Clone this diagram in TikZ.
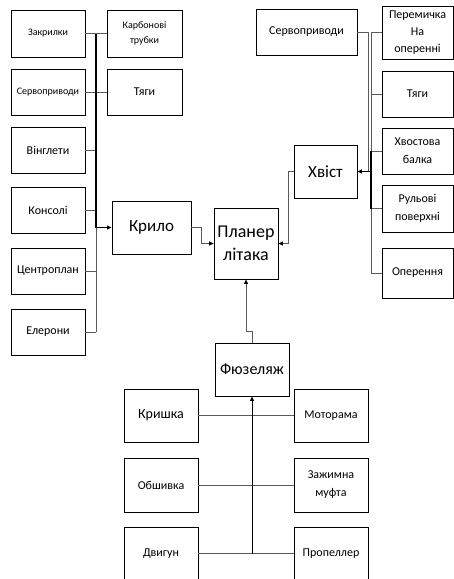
\documentclass[tikz,border=0pt]{standalone}
\usepackage{fontspec}
\setmainfont{Carlito}
\usetikzlibrary{arrows.meta}
\newcommand\fsz[2]{\fontsize{#1}{#2}\selectfont}
\tikzset{
  box/.style={draw=black, line width=0.8pt, fill=white, inner sep=0pt, align=center},
  conn/.style={draw=black!65, line width=0.8pt},
  busln/.style={draw=black, line width=1.3pt},
  arr/.style={-{Triangle[length=4.5pt,width=4pt,color=black]}},
}
\begin{document}
\begin{tikzpicture}[x=1pt,y=-1pt]
\useasboundingbox (0,0) rectangle (454,579);
% left column
\node[box, minimum width=74pt, minimum height=47pt, font=\fsz{10}{14}] (zak) at (48,33.5) {Закрилки};
\node[box, minimum width=74pt, minimum height=46pt, font=\fsz{10}{14}] (servL) at (48,92) {Сервоприводи};
\node[box, minimum width=74pt, minimum height=46pt, font=\fsz{12}{16}] (ving) at (48,150) {Вінглети};
\node[box, minimum width=74pt, minimum height=46pt, font=\fsz{12}{16}] (kons) at (48,210.5) {Консолі};
\node[box, minimum width=74pt, minimum height=46pt, font=\fsz{12}{16}] (centr) at (48,271) {Центроплан};
\node[box, minimum width=74pt, minimum height=46pt, font=\fsz{12}{16}] (eler) at (48,332) {Елерони};
\node[box, minimum width=75pt, minimum height=47pt, font=\fsz{10}{15}] (karb) at (144.5,33.5) {Карбонові\\трубки};
\node[box, minimum width=75pt, minimum height=46pt, font=\fsz{12}{16}] (tyagiL) at (144.5,92) {Тяги};
% center
\node[box, minimum width=79pt, minimum height=53pt, font=\fsz{17}{22}] (krylo) at (151.5,227.5) {Крило};
\node[box, minimum width=64pt, minimum height=71pt, font=\fsz{18}{23}] (planer) at (246,243.5) {Планер\\літака};
\node[box, minimum width=63pt, minimum height=53pt, font=\fsz{17}{22}] (hvist) at (325.5,171.5) {Хвіст};
\node[box, minimum width=74pt, minimum height=53pt, font=\fsz{16}{21}] (fus) at (252,369.5) {Фюзеляж};
% right
\node[box, minimum width=101pt, minimum height=46pt, font=\fsz{12}{16}] (servR) at (306.5,32) {Сервоприводи};
\node[box, minimum width=71pt, minimum height=53pt, font=\fsz{12}{17}] (perem) at (417.5,32.5) {Перемичка\\На\\оперенні};
\node[box, minimum width=71pt, minimum height=46pt, font=\fsz{12}{16}] (tyagiR) at (417.5,94) {Тяги};
\node[box, minimum width=71pt, minimum height=46pt, font=\fsz{12}{18}] (hvost) at (417.5,151) {Хвостова\\балка};
\node[box, minimum width=71pt, minimum height=47pt, font=\fsz{12}{18}] (rul) at (417.5,208.5) {Рульові\\поверхні};
\node[box, minimum width=71pt, minimum height=50pt, font=\fsz{12}{16}] (oper) at (417.5,273) {Оперення};
% bottom
\node[box, minimum width=74pt, minimum height=53pt, font=\fsz{14}{18}] (kryshka) at (161,415.5) {Кришка};
\node[box, minimum width=74pt, minimum height=53pt, font=\fsz{12}{16}] (motor) at (331,415.5) {Моторама};
\node[box, minimum width=74pt, minimum height=54pt, font=\fsz{12}{16}] (obsh) at (161,485) {Обшивка};
\node[box, minimum width=74pt, minimum height=54pt, font=\fsz{12}{18}] (muft) at (331,485) {Зажимна\\муфта};
\node[box, minimum width=74pt, minimum height=53pt, font=\fsz{12}{16}] (dvyh) at (161,553.5) {Двигун};
\node[box, minimum width=74pt, minimum height=53pt, font=\fsz{12}{16}] (prop) at (331,553.5) {Пропеллер};
% coordinates
\coordinate (lbus) at (96,0);
\coordinate (rbusA) at (368,0);
\coordinate (rbus) at (371,0);
% left bus connectors
\draw[conn] (zak.east) -- (karb.west);
\draw[conn] (servL.east) -- (tyagiL.west);
\draw[conn] (ving.east) -- (ving.east -| lbus);
\draw[conn] (kons.east) -- (kons.east -| lbus);
\draw[conn] (centr.east) -- (centr.east -| lbus);
\draw[conn] (eler.east) -- (eler.east -| lbus);
\draw[conn] (lbus |- krylo.west) -- (lbus |- eler.east);
\draw[busln] (lbus |- zak.east) -- (lbus |- krylo.west);
\draw[busln, arr] (lbus |- krylo.west) -- (krylo.west);
% krylo to planer
\draw[conn, arr] (krylo.east) -- ++(10,0) |- (planer.west);
% fuselage to planer
\draw[conn, arr] (fus.north) -- ++(0,-11) -| (planer.south);
% hvist to planer
\draw[conn, arr] (hvist.west) -- ++(-5,0) |- (planer.east);
% right bus
\draw[conn] (servR.east) -- (servR.east -| rbusA) -- (rbusA |- hvist.east);
\draw[conn] (perem.west) -- (perem.west -| rbus);
\draw[conn] (tyagiR.west) -- (tyagiR.west -| rbus);
\draw[conn] (hvost.west) -- (hvost.west -| rbus);
\draw[conn] (rul.west) -- (rul.west -| rbus);
\draw[conn] (oper.west) -- (oper.west -| rbus);
\draw[conn] (rbus |- perem.west) -- (rbus |- oper.west);
\draw[busln] (rbus |- hvost.west) -- (rbus |- rul.west);
\draw[busln, arr] (rbus |- hvist.east) -- (hvist.east);
% bottom
\draw[conn] (kryshka.east) -- (motor.west);
\draw[conn] (obsh.east) -- (muft.west);
\draw[conn] (dvyh.east) -- (prop.west);
\draw[draw=black, line width=1pt, arr] (dvyh.east -| fus.south) -- (fus.south);
\end{tikzpicture}
\end{document}
